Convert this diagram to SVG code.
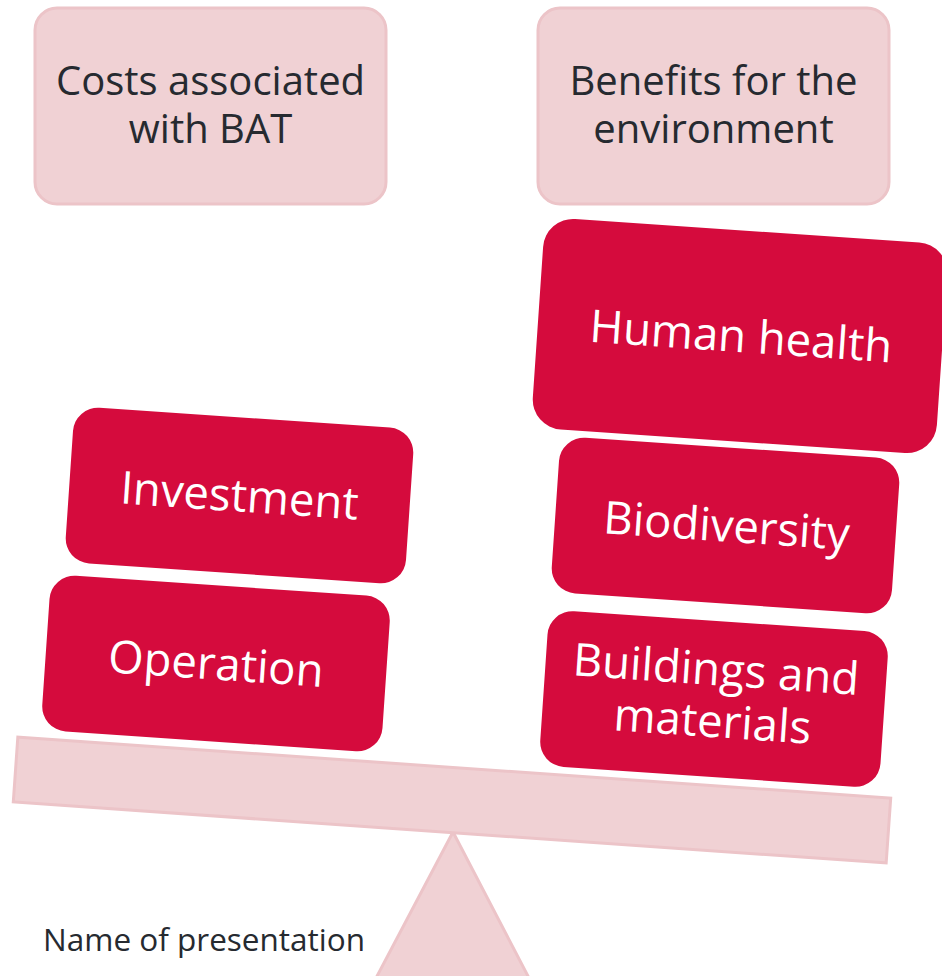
<svg xmlns="http://www.w3.org/2000/svg" width="942" height="976" viewBox="0 0 942 976">
<style>
.pink{fill:#f0d1d4;stroke:#ecc4c8;stroke-width:3}
.red{fill:#d50b3d}
.dark{font-family:"Open Sans","Noto Sans","Liberation Sans",sans-serif;fill:#262a30;text-anchor:middle}
.wt{font-family:"Open Sans","Noto Sans","Liberation Sans",sans-serif;fill:#ffffff;font-size:45.5px;text-anchor:middle}
</style>
<rect width="942" height="976" fill="#ffffff"/>
<g id="costs-header">
<rect class="pink" x="35" y="8" width="351" height="196" rx="22"/>
<text class="dark" font-size="40" x="210.5" y="95">Costs associated</text>
<text class="dark" font-size="40" x="210.5" y="143">with BAT</text>
</g>
<g id="benefits-header">
<rect class="pink" x="538" y="8" width="351" height="196" rx="22"/>
<text class="dark" font-size="40" x="713.5" y="95">Benefits for the</text>
<text class="dark" font-size="40" x="713.5" y="143">environment</text>
</g>
<g id="fulcrum">
<polygon class="pink" points="453,832 375,980 530,980"/>
</g>
<g id="beam">
<rect class="pink" x="14.5" y="767.5" width="875" height="65" transform="rotate(4 452 800)"/>
</g>
<g id="human-health" transform="translate(740 336) rotate(3.9)">
<rect class="red" x="-202.5" y="-105.5" width="405" height="211" rx="30"/>
<text class="wt" x="1" y="16">Human health</text>
</g>
<g id="biodiversity" transform="translate(725.5 525.5) rotate(3.9)">
<rect class="red" x="-170.5" y="-78" width="341" height="156" rx="25"/>
<text class="wt" x="1" y="16">Biodiversity</text>
</g>
<g id="buildings" transform="translate(714 699) rotate(3.9)">
<rect class="red" x="-170.5" y="-78" width="341" height="156" rx="25"/>
<text class="wt" x="0" y="-14">Buildings and</text>
<text class="wt" x="0" y="38">materials</text>
</g>
<g id="investment" transform="translate(239.5 495.5) rotate(3.9)">
<rect class="red" x="-170.5" y="-78" width="341" height="156" rx="25"/>
<text class="wt" x="0" y="16">Investment</text>
</g>
<g id="operation" transform="translate(216 663.5) rotate(3.9)">
<rect class="red" x="-170.5" y="-78" width="341" height="156" rx="25"/>
<text class="wt" x="0" y="16">Operation</text>
</g>
<g id="connectors"></g>
<text class="dark" font-size="31.5" x="43" y="951" style="text-anchor:start">Name of presentation</text>
</svg>
